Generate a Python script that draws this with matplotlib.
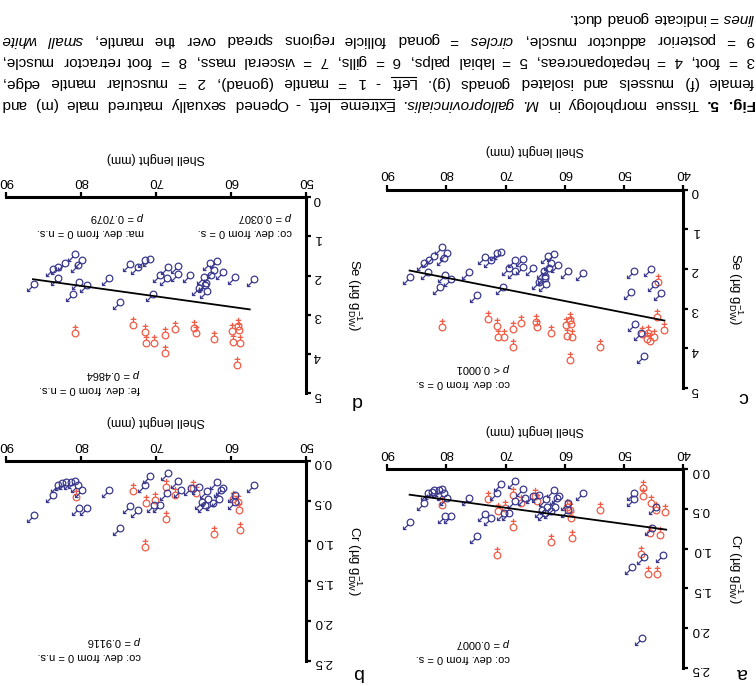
import numpy as np
import matplotlib.pyplot as plt
from matplotlib.lines import Line2D
from matplotlib.path import Path

plt.rcParams['font.family'] = ['Liberation Sans', 'DejaVu Sans']
plt.rcParams['mathtext.fontset'] = 'custom'
plt.rcParams['mathtext.rm'] = 'Liberation Sans'
plt.rcParams['mathtext.it'] = 'Liberation Sans:italic'
plt.rcParams['mathtext.bf'] = 'Liberation Sans:bold'

MALE = '#3b3a8e'
FEMALE = '#ef5b45'

# Se (µg g-1 DW) vs shell length (mm)
male_len_se = [86.2, 83.7, 83.0, 82.1, 80.8, 79.9, 80.4, 83.1, 80.3, 79.2, 81.1, 76.2, 74.8,
               73.5, 72.4, 71.5, 70.8, 70.4, 69.4, 68.4, 68.5, 67.0, 67.0, 65.4, 64.3, 63.4,
               63.6, 63.2, 62.8, 61.9, 62.3, 61.1, 62.6, 63.3, 59.4, 56.9, 48.4, 45.5, 48.8,
               44.8, 43.7, 48.1, 47.1, 46.6]
male_se = [2.21, 1.84, 1.77, 1.67, 1.44, 1.59, 1.73, 2.07, 2.15, 2.25, 2.46, 2.07, 2.66,
           1.71, 1.77, 1.61, 1.58, 2.46, 1.98, 1.77, 2.05, 1.75, 1.96, 1.98, 2.32, 2.24,
           2.04, 2.38, 1.67, 1.62, 1.86, 1.90, 1.98, 2.18, 2.04, 2.09, 2.04, 2.01, 2.57,
           2.38, 2.60, 3.39, 3.62, 4.19]
female_len_se = [80.8, 73.0, 71.5, 71.3, 70.2, 68.8, 68.8, 67.4, 64.9, 64.7, 62.3, 59.8, 59.7,
                 59.1, 58.9, 58.8, 59.2, 54.0, 47.0, 45.9, 45.7, 44.9, 44.5, 44.3, 43.2, 46.2]
female_se = [3.45, 3.27, 3.44, 3.71, 3.72, 3.51, 3.97, 3.37, 3.33, 3.45, 3.61, 3.41, 3.69,
             3.29, 3.39, 3.71, 4.29, 3.96, 3.64, 3.62, 3.82, 3.71, 3.20, 2.34, 3.55, 3.77]

# Cr (µg g-1 DW) vs shell length (mm)
male_len_cr = [86.2, 83.7, 83.1, 82.5, 82.0, 81.3, 80.8, 80.4, 79.9, 80.3, 79.2, 76.2, 74.8,
               73.5, 72.4, 71.5, 70.8, 70.3, 69.4, 68.4, 68.5, 67.0, 66.7, 65.3, 64.3, 63.9,
               63.4, 63.2, 63.0, 62.4, 61.9, 61.6, 61.3, 61.0, 59.5, 59.4, 56.9, 48.3, 48.4,
               48.7, 46.6, 45.3, 44.6, 43.5, 47.0]
male_cr = [0.67, 0.43, 0.30, 0.28, 0.26, 0.26, 0.25, 0.30, 0.36, 0.59, 0.59, 0.36, 0.84,
           0.56, 0.61, 0.30, 0.19, 0.55, 0.55, 0.15, 0.40, 0.25, 0.36, 0.34, 0.32, 0.51,
           0.55, 0.38, 0.47, 0.53, 0.26, 0.47, 0.36, 0.34, 0.42, 0.51, 0.30, 0.30, 0.38,
           1.23, 1.11, 0.74, 0.47, 1.08, 2.13]
female_len_cr = [80.7, 73.0, 71.3, 70.1, 68.7, 68.7, 71.5, 67.4, 65.1, 64.7, 62.3, 59.7, 59.1,
                 58.9, 58.8, 54.0, 46.9, 46.9, 45.5, 44.6, 43.1, 47.1, 45.9, 44.5, 44.0, 45.7]
female_cr = [0.45, 0.37, 0.53, 0.49, 0.73, 0.33, 1.08, 0.42, 0.34, 0.40, 0.91, 0.47, 0.51,
             0.61, 0.87, 0.51, 0.34, 0.24, 0.42, 0.51, 0.54, 1.07, 1.32, 1.32, 0.83, 0.80]

# regression lines (end points)
fit_a_len, fit_a_val = [42.9, 86.2], [0.76, 0.32]
fit_c_len, fit_c_val = [43.2, 86.2], [3.30, 2.04]
fit_d_len, fit_d_val = [57.5, 86.4], [2.86, 2.09]

len_ticks_all = [40, 50, 60, 70, 80, 90]
len_ticks_big = [50, 60, 70, 80, 90]
se_ticks = [0, 1, 2, 3, 4, 5]
se_ticklabels = ['0', '1', '2', '3', '4', '5']
cr_ticks = [0.0, 0.5, 1.0, 1.5, 2.0, 2.5]
cr_ticklabels = ['0.0', '0.5', '1.0', '1.5', '2.0', '2.5']
min_len_big = 55  # panels b and d only show the larger mussels

caption_lines = [
    '**Fig.** **5.** Tissue morphology in *M.* *galloprovincialis.* _Extreme_ _left_ - Opened sexually matured male (m) and',
    'female (f) mussels and isolated gonads (g). _Left_ - 1 = mantle (gonad), 2 = muscular mantle edge,',
    '3 = foot, 4 = hepatopancreas, 5 = labial palps, 6 = gills, 7 = visceral mass, 8 = foot retractor muscle,',
    '9 = posterior adductor muscle, *circles* = gonad follicle regions spread over the mantle, *small* *white*',
    '*lines* = indicate gonad duct.',
]

# sex symbols drawn as thin outlines, already turned upside down like the figure
MOVE, LINE = Path.MOVETO, Path.LINETO
male_marker = Path.make_compound_path(
    Path.circle((0, 0), 1.0),
    Path([(-0.71, -0.71), (-2.1, -2.1), (-1.2, -2.1), (-2.1, -2.1), (-2.1, -1.2)],
         [MOVE, LINE, MOVE, LINE, LINE]))
female_marker = Path.make_compound_path(
    Path.circle((0, 0), 1.0),
    Path([(0, 1.05), (0, 2.6), (-0.85, 1.85), (0.85, 1.85)],
         [MOVE, LINE, MOVE, LINE]))


def style_panel(ax, xticks, yticks, yticklabels, ylabel, ylab_x):
    ax.set_xlim(xticks[-1], xticks[0])
    ax.set_ylim(yticks[-1], yticks[0])
    ax.set_xticks(xticks)
    ax.set_xticklabels([str(t) for t in xticks])
    ax.set_yticks(yticks)
    ax.set_yticklabels(yticklabels)
    for s in ('left', 'bottom'):
        ax.spines[s].set_visible(False)
    for s in ('right', 'top'):
        ax.spines[s].set_linewidth(2.2)
    ax.xaxis.tick_top()
    ax.yaxis.tick_right()
    ax.tick_params(direction='out', length=3.5, width=1.6, labelsize=9.5, labelrotation=180)
    ax.tick_params(axis='x', pad=4)
    ax.tick_params(axis='y', pad=2)
    ax.patch.set_visible(False)
    ax.xaxis.set_label_position('top')
    ax.set_xlabel('Shell lenght (mm)', rotation=180, fontsize=9, va='bottom', ha='center')
    ax.xaxis.set_label_coords(0.5, 1.17)
    ax.yaxis.set_label_position('right')
    ax.set_ylabel(ylabel, rotation=270, fontsize=9.5, va='bottom', ha='center')
    ax.yaxis.set_label_coords(ylab_x, 0.5)


def plot_sexes(ax, mlen, mval, flen, fval, min_len):
    mlen, mval = np.array(mlen), np.array(mval)
    flen, fval = np.array(flen), np.array(fval)
    sm = mlen >= min_len
    sf = flen >= min_len
    ax.plot(flen[sf], fval[sf], ls='none', marker=female_marker, ms=12.5,
            mfc='none', mec=FEMALE, mew=0.9, clip_on=False)
    ax.plot(mlen[sm], mval[sm], ls='none', marker=male_marker, ms=10.1,
            mfc='none', mec=MALE, mew=0.9, clip_on=False)


def note(ax, x, y, s):
    ax.text(x, y, s, rotation=180, ha='right', va='center', fontsize=8,
            linespacing=1.3, multialignment='left')


def draw_caption(fig, y_pos, fs=11):
    renderer = fig.canvas.get_renderer()
    W, H = fig.bbox.width, fig.bbox.height
    space = 0.278 * fs * fig.dpi / 72
    x_start, x_end = 754, 1
    for i, line in enumerate(caption_lines):
        items = []
        for w in line.split(' '):
            weight, style, under = 'normal', 'normal', False
            if w.startswith('**'):
                w, weight = w.strip('*'), 'bold'
            elif w.startswith('*'):
                w, style = w.strip('*'), 'italic'
            if w.startswith('_') and len(w) > 1:
                w, under = w.strip('_'), True
            t = fig.text(0, 0, w, rotation=180, ha='right', va='center', fontsize=fs,
                         fontweight=weight, fontstyle=style)
            items.append((t, under))
        widths = [t.get_window_extent(renderer).width for t, _ in items]
        if i < len(caption_lines) - 1:
            gap = max(0.5 * space, (x_start - x_end - sum(widths)) / (len(items) - 1))
        else:
            gap = space
        y = H - y_pos[i]
        x = x_start
        for k, (t, under) in enumerate(items):
            t.set_position((x / W, y / H))
            if under:
                h = t.get_window_extent(renderer).height
                x0 = x - widths[k]
                if k + 1 < len(items) and items[k + 1][1]:
                    x0 -= gap
                yl = y + h / 2 - 1.5
                fig.add_artist(Line2D([x0 / W, x / W], [yl / H, yl / H],
                                      transform=fig.transFigure, color='black', lw=0.8))
            x -= widths[k] + gap


fig = plt.figure(figsize=(7.56, 6.86), dpi=100)

ax_c = fig.add_axes([0.512, 0.4344, 0.392, 0.2892])
ax_a = fig.add_axes([0.512, 0.0265, 0.392, 0.2894])
ax_d = fig.add_axes([0.0079, 0.4267, 0.3968, 0.2857])
ax_b = fig.add_axes([0.0079, 0.0369, 0.3968, 0.2911])

se_label = r'Se (µg g$^{-1}_{\mathrm{DW}}$)'
cr_label = r'Cr (µg g$^{-1}_{\mathrm{DW}}$)'

style_panel(ax_a, len_ticks_all, cr_ticks, cr_ticklabels, cr_label, 1.145)
style_panel(ax_b, len_ticks_big, cr_ticks, cr_ticklabels, cr_label, 1.13)
style_panel(ax_c, len_ticks_all, se_ticks, se_ticklabels, se_label, 1.145)
style_panel(ax_d, len_ticks_big, se_ticks, se_ticklabels, se_label, 1.13)

plot_sexes(ax_a, male_len_cr, male_cr, female_len_cr, female_cr, 0)
plot_sexes(ax_b, male_len_cr, male_cr, female_len_cr, female_cr, min_len_big)
plot_sexes(ax_c, male_len_se, male_se, female_len_se, female_se, 0)
plot_sexes(ax_d, male_len_se, male_se, female_len_se, female_se, min_len_big)

ax_a.plot(fit_a_len, fit_a_val, color='black', lw=1.3)
ax_c.plot(fit_c_len, fit_c_val, color='black', lw=1.3)
ax_d.plot(fit_d_len, fit_d_val, color='black', lw=1.3)

note(ax_a, 69.2, 2.27, 'co: dev. from 0 = s.\n$p$ = 0.0007')
note(ax_b, 72.0, 2.34, 'co: dev. from 0 = n.s.\n$p$ = 0.9116')
note(ax_c, 69.2, 4.65, 'co: dev. from 0 = s.\n$p$ < 0.0001')
note(ax_d, 51.9, 0.66, 'co: dev. from 0 = s.\n$p$ = 0.0307')
note(ax_d, 71.6, 0.66, 'ma: dev. from 0 = n.s.\n$p$ = 0.7079')
note(ax_d, 72.1, 4.67, 'fe: dev. from 0 = n.s.\n$p$ = 0.4864')

for letter, px, py in [('a', 742, 673), ('b', 357, 673), ('c', 743, 397), ('d', 357, 400)]:
    fig.text(px / 756, 1 - py / 686, letter, rotation=180, fontsize=14, ha='center', va='center')

draw_caption(fig, [104, 82.5, 61, 39.5, 18])

fig.savefig('out.png', dpi=100)
